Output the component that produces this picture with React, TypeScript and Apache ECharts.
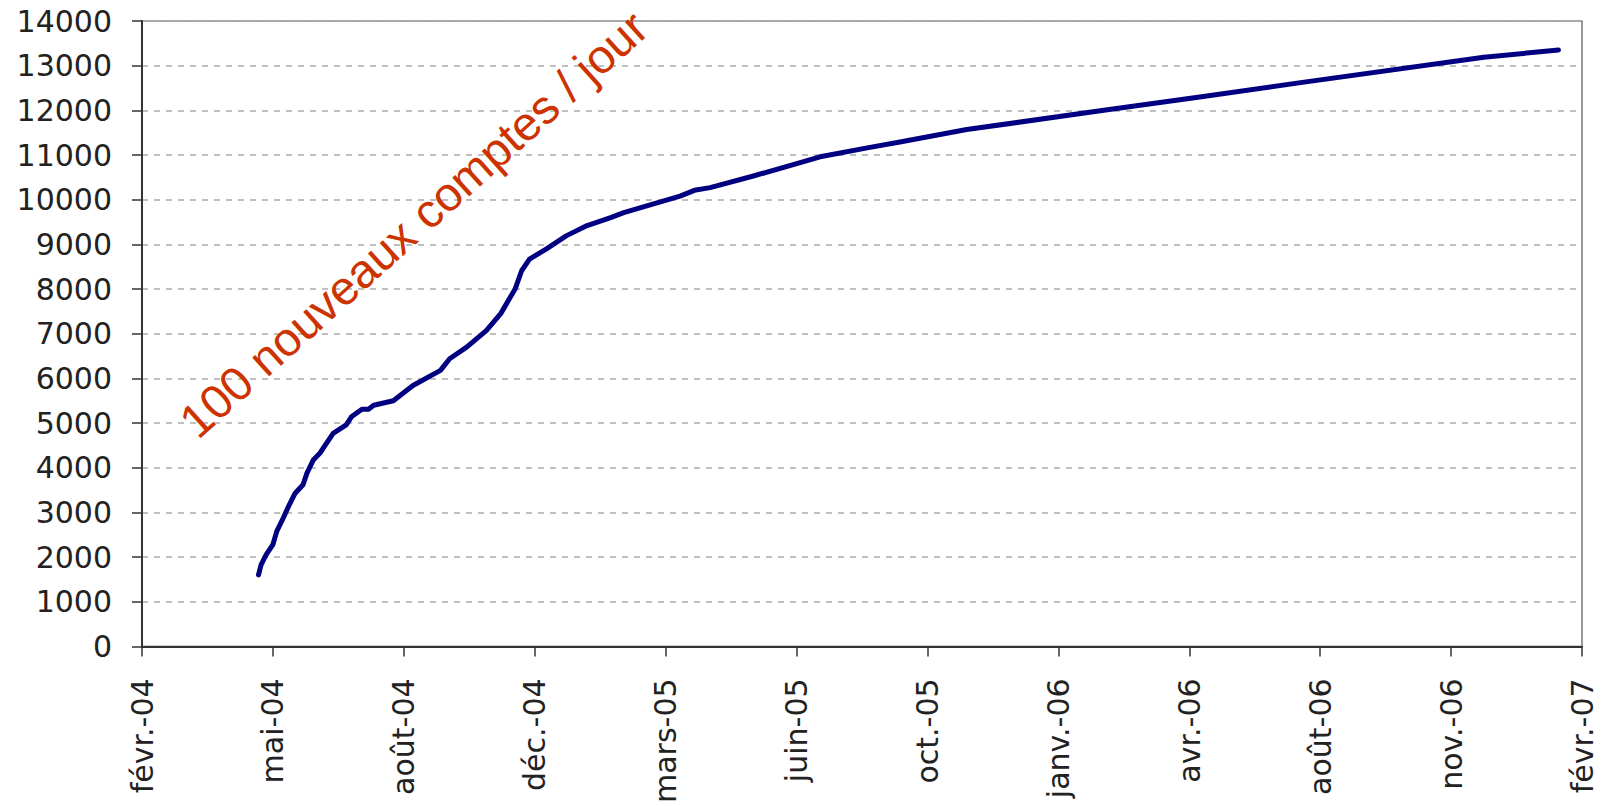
import React, { useEffect, useRef } from "react";
import * as echarts from "echarts";

// Axis starts on 13 Feb 2004; x values are days since that date
const START_DATE_UTC = Date.UTC(2004, 1, 13);
const DAY_MS = 24 * 3600 * 1000;
const FRENCH_MONTHS = ["janv.", "févr.", "mars", "avr.", "mai", "juin", "juil.", "août", "sept.", "oct.", "nov.", "déc."];

const days = [
  89, 91, 95, 100, 103, 108, 112, 117, 123, 126, 131, 136, 141, 146, 156, 160,
  168, 173, 177, 192, 207, 228, 235, 248, 263, 274, 285, 290, 296, 309, 324,
  340, 358, 368, 411, 422, 434, 467, 518, 554, 579, 630, 732, 808, 885, 1025, 1082,
];
const accounts = [
  1600, 1830, 2060, 2280, 2580, 2880, 3140, 3430, 3620, 3880, 4180, 4330, 4550, 4770, 4960, 5140,
  5310, 5310, 5400, 5500, 5840, 6180, 6440, 6700, 7070, 7450, 8000, 8410, 8670, 8900, 9190,
  9420, 9600, 9710, 10080, 10210, 10270, 10530, 10960, 11160, 11290, 11570, 11990, 12300, 12620, 13190, 13350,
];

const annotation = "100 nouveaux comptes / jour";

function frenchLabel(d: number): string {
  const dt = new Date(START_DATE_UTC + d * DAY_MS);
  const yy = String(dt.getUTCFullYear() % 100).padStart(2, "0");
  return FRENCH_MONTHS[dt.getUTCMonth()] + "-" + yy;
}

export default function App() {
  const ref = useRef<HTMLDivElement>(null);
  useEffect(() => {
    if (!ref.current) return;
    const chart = echarts.init(ref.current, undefined, { renderer: "svg" });
    const data = days.map((d, i) => [d, accounts[i]]);
    chart.setOption({
      animation: false,
      backgroundColor: "#ffffff",
      grid: {
        left: 142,
        right: 22,
        top: 21,
        bottom: 157,
        show: true,
        borderColor: "#555",
        borderWidth: 1.2,
        backgroundColor: "transparent",
      },
      xAxis: {
        type: "value",
        min: 0,
        max: 1100,
        interval: 100,
        axisLine: { show: true, onZero: false, lineStyle: { color: "#333", width: 2 } },
        axisTick: { show: true, length: 10, lineStyle: { color: "#333", width: 1.5 } },
        splitLine: { show: false },
        axisLabel: {
          rotate: 90,
          margin: 32,
          fontSize: 30,
          color: "#222",
          fontFamily: "DejaVu Sans",
          formatter: (v: number) => frenchLabel(v),
        },
      },
      yAxis: {
        type: "value",
        min: 0,
        max: 14000,
        interval: 1000,
        axisLine: { show: true, lineStyle: { color: "#333", width: 2 } },
        axisTick: { show: true, length: 10, lineStyle: { color: "#333", width: 1.5 } },
        splitLine: { show: true, lineStyle: { color: "#aaa", width: 1.5, type: [6, 6] } },
        axisLabel: {
          margin: 30,
          fontSize: 30,
          color: "#222",
          fontFamily: "DejaVu Sans",
          formatter: (v: number) => String(v),
        },
      },
      series: [
        {
          type: "line",
          data,
          showSymbol: false,
          symbol: "none",
          lineStyle: { color: "#000080", width: 5, cap: "round", join: "round" },
          z: 5,
        },
      ],
      graphic: [
        {
          type: "text",
          x: 203,
          y: 446,
          rotation: (42 * Math.PI) / 180,
          z: 10,
          style: {
            text: annotation,
            fill: "#cc3300",
            fontSize: 47.5,
            fontFamily: "Liberation Sans",
            textAlign: "left",
            textVerticalAlign: "bottom",
          },
        },
      ],
    });
    return () => chart.dispose();
  }, []);
  return (
    <div
      ref={ref}
      style={{ position: "absolute", left: 0, top: 0, width: "1604px", height: "806px" }}
    />
  );
}
